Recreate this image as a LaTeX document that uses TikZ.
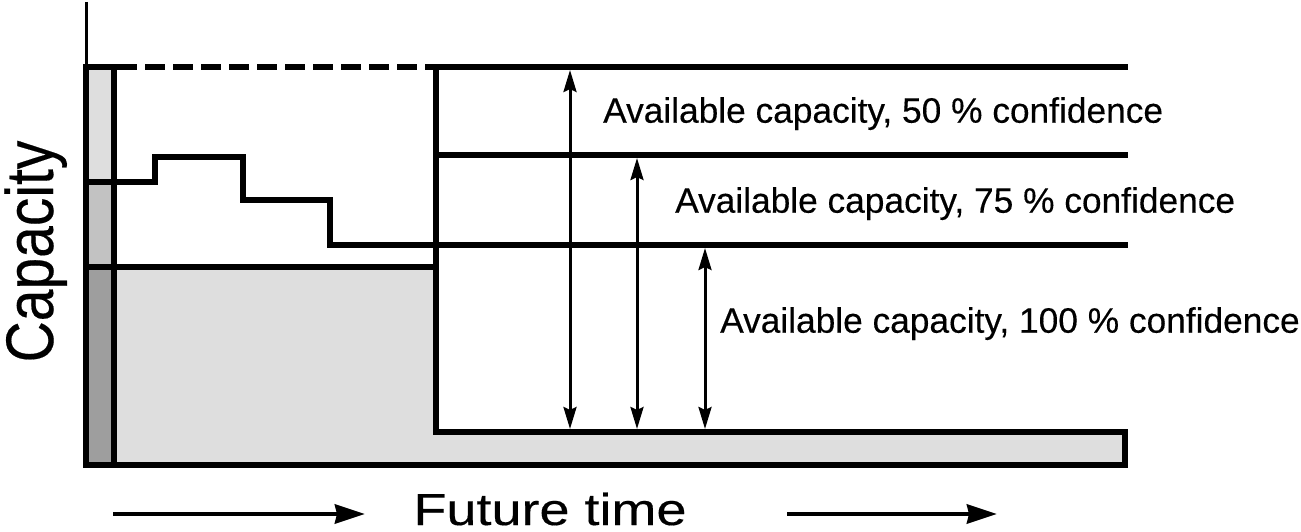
\documentclass[tikz,border=0pt]{standalone}
\usepackage{fontspec}
\setmainfont{Liberation Sans}
\newfontfamily\heavyfont[FakeBold=0.3]{Liberation Sans}
\usetikzlibrary{arrows.meta}
\definecolor{fillA}{gray}{0.87}
\definecolor{barA}{gray}{0.87}
\definecolor{barB}{gray}{0.76}
\definecolor{barC}{gray}{0.62}
\begin{document}
\begin{tikzpicture}[x=1bp,y=-1bp,
  heavy/.style={line width=6bp,line join=miter,line cap=rect},
  axisline/.style={line width=3bp},
  dimarrow/.style={line width=3bp,{Stealth[length=22bp,width=13bp,inset=3bp]}-{Stealth[length=22bp,width=13bp,inset=3bp]}},
  timearrow/.style={line width=4.5bp,-{Stealth[length=30bp,width=19bp,inset=2bp]}},
  lbl/.style={anchor=base west,inner sep=0pt,font=\heavyfont\fontsize{35.3bp}{40bp}\selectfont}]
\useasboundingbox (0,0) rectangle (1301,532);
% fills
\fill[fillA] (114,267) -- (436,267) -- (436,432) -- (1125,432) -- (1125,465) -- (114,465) -- cycle;
\fill[barA] (86,67) rectangle (114,182);
\fill[barB] (86,182) rectangle (114,267);
\fill[barC] (86,267) rectangle (114,465);
% coordinates
\coordinate (axtop) at (86,2);
\coordinate (bl) at (86,67);
\coordinate (br) at (114,67);
\coordinate (bb) at (86,465);
\coordinate (bbr) at (114,465);
\coordinate (vt) at (436,67);
\coordinate (vb) at (436,432);
\coordinate (re) at (1125,432);
\coordinate (rb) at (1125,465);
% axis
\draw[axisline] (axtop) -- (bl);
% bar outline
\draw[heavy] (bl) -- (br) -- (bbr);
\draw[heavy] (bl) -- (bb) -- (rb) -- (re) -- (vb) -- (vt) -- (1125,67);
\draw[line width=6bp,dash pattern=on 20bp off 8bp] (117,67) -- (vt);
\draw[heavy] (vt |- 0,155) -- (1125,155);
% step line
\draw[heavy] (86,182) -- (155,182) -- (155,157) -- (243,157) -- (243,200) -- (330,200) -- (330,245) -- (1125,245);
% gray region top
\draw[heavy] (86,267) -- (436,267);
% dimension arrows
\coordinate (a1t) at (570,70);
\coordinate (a1b) at (570,429);
\coordinate (a2t) at (637,158);
\coordinate (a2b) at (637,429);
\coordinate (a3t) at (705,248);
\coordinate (a3b) at (705,429);
\draw[dimarrow] (a1t) -- (a1b);
\draw[dimarrow] (a2t) -- (a2b);
\draw[dimarrow] (a3t) -- (a3b);
% labels
\node[lbl] (l50) at (603,122.7) {Available capacity, 50 \% confidence};
\node[lbl] (l75) at (675,212.7) {Available capacity, 75 \% confidence};
\node[lbl] (l100) at (720,332.7) {Available capacity, 100 \% confidence};
% axis titles
\node[anchor=base,inner sep=0pt,rotate=90,font=\heavyfont\fontsize{57bp}{60bp}\selectfont] (cap) at (53,251.5) {\scalebox{1}[1.18]{Capacity}};
\node[anchor=base,inner sep=0pt,font=\heavyfont\fontsize{54bp}{60bp}\selectfont] (ft) at (550,525) {\scalebox{1}[0.83]{Future time}};
% time arrows
\coordinate (t1s) at (113,514);
\coordinate (t1e) at (365,514);
\coordinate (t2s) at (787,514);
\coordinate (t2e) at (997,514);
\draw[timearrow] (t1s) -- (t1e);
\draw[timearrow] (t2s) -- (t2e);
\end{tikzpicture}
\end{document}
